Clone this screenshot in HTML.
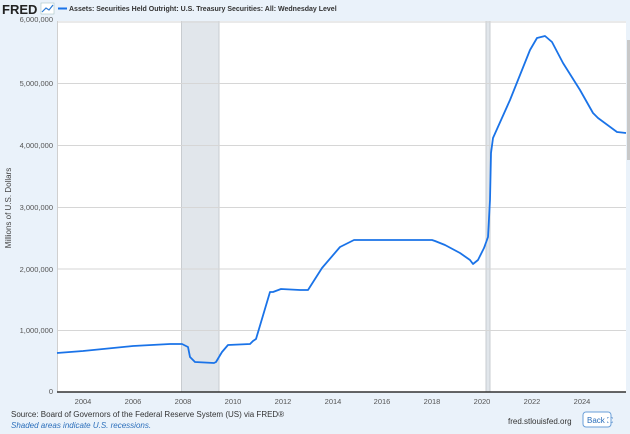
<!DOCTYPE html>
<html><head><meta charset="utf-8"><style>
html,body{margin:0;padding:0;}
body{width:630px;height:429px;background:#eaf2fa;overflow:hidden;font-family:"Liberation Sans",Arial,sans-serif;}
</style></head><body>
<svg width="630" height="429" viewBox="0 0 630 429" xmlns="http://www.w3.org/2000/svg" font-family="Liberation Sans, Arial, sans-serif">
<rect x="0" y="0" width="630" height="429" fill="#eaf2fa"/>
<rect x="57" y="21" width="569" height="371" fill="#ffffff"/>
<rect x="181.5" y="21" width="37.5" height="371" fill="#e1e6eb"/>
<line x1="181.5" y1="21" x2="181.5" y2="392" stroke="#c8ccd0" stroke-width="1"/>
<line x1="219" y1="21" x2="219" y2="392" stroke="#c8ccd0" stroke-width="1"/>
<rect x="486" y="21" width="4" height="371" fill="#e1e6eb"/>
<line x1="486" y1="21" x2="486" y2="392" stroke="#c8ccd0" stroke-width="1"/>
<line x1="490" y1="21" x2="490" y2="392" stroke="#c8ccd0" stroke-width="1"/>
<g stroke="#d6d6d6" stroke-width="1">
<line x1="57" y1="22" x2="626" y2="22"/>
<line x1="57" y1="83.5" x2="626" y2="83.5"/>
<line x1="57" y1="145.5" x2="626" y2="145.5"/>
<line x1="57" y1="207.5" x2="626" y2="207.5"/>
<line x1="57" y1="269" x2="626" y2="269"/>
<line x1="57" y1="330.5" x2="626" y2="330.5"/>
</g>
<line x1="57.5" y1="21" x2="57.5" y2="392" stroke="#d0d0d0"/>
<line x1="57" y1="392" x2="626" y2="392" stroke="#333" stroke-width="1.5"/>
<rect x="627" y="40" width="3" height="120" fill="#c8c8c8"/>
<g font-size="7.5" fill="#555" text-anchor="end">
<text x="53" y="22">6,000,000</text>
<text x="53" y="86">5,000,000</text>
<text x="53" y="148">4,000,000</text>
<text x="53" y="210">3,000,000</text>
<text x="53" y="272">2,000,000</text>
<text x="53" y="333">1,000,000</text>
<text x="53" y="394">0</text>
</g>
<g font-size="7.5" fill="#555" text-anchor="middle">
<text x="83" y="404">2004</text><text x="133" y="404">2006</text><text x="183" y="404">2008</text>
<text x="233" y="404">2010</text><text x="283" y="404">2012</text><text x="333" y="404">2014</text>
<text x="382" y="404">2016</text><text x="432" y="404">2018</text><text x="482" y="404">2020</text>
<text x="532" y="404">2022</text><text x="582" y="404">2024</text>
</g>
<text transform="translate(11,208) rotate(-90)" font-size="8" fill="#444" text-anchor="middle">Millions of U.S. Dollars</text>
<polyline fill="none" stroke="#1a73e8" stroke-width="1.8" stroke-linejoin="round" points="57,353 83,351 133,346 170,344 182,344 188,347 190,357 195,362 214,363 216,362 222,352 228,345 250,344 253,341 256,339 270,292 273,292 281,289 300,290 308,290 322,268 340,247 350,242 354,240 432,240 435,241 445,245 460,253 470,260 473,264 478,260 484,248 488,237 490,200 491,153 493,138 510,100 530,50 537,38 545,36 552,42 563,63 580,90 593,113 598,118 617,132 626,133"/>
<text x="2" y="14" font-size="13" font-weight="bold" fill="#222">FRED</text>
<rect x="41" y="3" width="13" height="11" fill="#fff" stroke="#9bb" stroke-width="0.5"/>
<polyline points="42,12 46,8 49,10 53,5" fill="none" stroke="#2a7ad5" stroke-width="1.2"/>
<line x1="58" y1="8.5" x2="67" y2="8.5" stroke="#1a73e8" stroke-width="2"/>
<text x="69" y="11" font-size="7" font-weight="bold" fill="#333">Assets: Securities Held Outright: U.S. Treasury Securities: All: Wednesday Level</text>
<text x="11" y="417" font-size="8" fill="#333">Source: Board of Governors of the Federal Reserve System (US) via FRED®</text>
<text x="11" y="428" font-size="8" fill="#2a6ebb" font-style="italic">Shaded areas indicate U.S. recessions.</text>
<text x="508" y="424" font-size="8" fill="#333">fred.stlouisfed.org</text>
<rect x="583" y="412" width="28" height="15" rx="3" fill="#fff" stroke="#6a9fd8"/>
<text x="587" y="423" font-size="8" fill="#2a6ebb">Back ⛶</text>
</svg>
</body></html>
